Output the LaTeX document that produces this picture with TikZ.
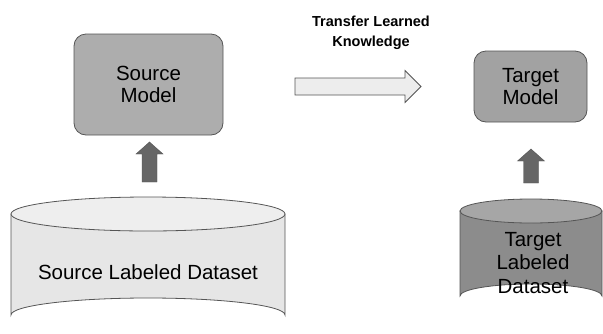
\documentclass[tikz,border=0pt]{standalone}
\usepackage{fontspec}
\setmainfont{Liberation Sans}
\usetikzlibrary{calc}
\definecolor{edge}{HTML}{555555}
\definecolor{modelfill}{HTML}{ADADAD}
\definecolor{tmodelfill}{HTML}{A2A2A2}
\definecolor{srcbody}{HTML}{E6E6E6}
\definecolor{srctop}{HTML}{EEEEEE}
\definecolor{tgtbody}{HTML}{8C8C8C}
\definecolor{tgttop}{HTML}{A6A6A6}
\definecolor{arrowfill}{HTML}{666666}
\definecolor{transferfill}{HTML}{EDEDED}
\begin{document}
\begin{tikzpicture}[x=1pt,y=-1pt,
  modelbox/.style={draw=edge, line width=0.8pt, rounded corners=12pt,
    align=center, inner sep=0pt, font=\fontsize{20.5}{22.5}\selectfont},
  dbtext/.style={align=center, inner sep=0pt, font=\fontsize{20.5}{23.5}\selectfont},
  cyl/.style={draw=edge, line width=0.8pt},
  blockup/.style={fill=arrowfill, draw=arrowfill!80!black, line width=0.4pt},
  transferarrow/.style={fill=transferfill, draw=edge, line width=0.8pt, line join=miter},
  caption/.style={align=center, inner sep=0pt, font=\bfseries\fontsize{14.5}{20}\selectfont}]
\useasboundingbox (0,0) rectangle (603,333);

% source dataset cylinder
\path[cyl, fill=srcbody] (11,214) -- (11,315) arc[start angle=180, end angle=360, x radius=137, y radius=17] -- (285,214) -- cycle;
\path[cyl, fill=srctop] (148,214) ellipse[x radius=137, y radius=17];
\node[dbtext] (srcdata) at (148,272) {Source Labeled Dataset};

% target dataset cylinder
\path[cyl, fill=tgtbody] (460,211) -- (460,296) arc[start angle=180, end angle=360, x radius=71, y radius=12] -- (602,211) -- cycle;
\path[cyl, fill=tgttop] (531,211) ellipse[x radius=71, y radius=12];
\node[dbtext] (tgtdata) at (533,263) {Target\\Labeled\\Dataset};

% models
\node[modelbox, fill=modelfill, minimum width=149pt, minimum height=101pt] (srcmodel) at (148.5,84.5) {Source\\Model};
\node[modelbox, fill=tmodelfill, minimum width=113pt, minimum height=71pt] (tgtmodel) at (530.5,86.5) {Target\\Model};

% block arrows from datasets up to models
\coordinate (s1) at (149.5,182);
\coordinate (e1) at (149.5,142);
\coordinate (s2) at (531,183);
\coordinate (e2) at (531,149);
\foreach \s/\e in {s1/e1, s2/e2}{
  \path[blockup] ($(\s)+(-7.5,0)$) -- ($(\s |- \e)+(-7.5,12)$) -- ($(\s |- \e)+(-13.5,12)$)
    -- (\e) -- ($(\s |- \e)+(13.5,12)$) -- ($(\s |- \e)+(7.5,12)$) -- ($(\s)+(7.5,0)$) -- cycle;
}

% transfer arrow with its caption
\node[caption] (transfer) at (371,33) {Transfer Learned\\Knowledge};
\coordinate (ttail) at (295,86.5);
\coordinate (ttip) at (421,86.5);
\path[transferarrow] ($(ttail)+(0,-8.5)$) -- ($(ttip)+(-16,-8.5)$) -- ($(ttip)+(-16,-16)$) -- (ttip)
  -- ($(ttip)+(-16,16)$) -- ($(ttip)+(-16,8.5)$) -- ($(ttail)+(0,8.5)$) -- cycle;
\end{tikzpicture}
\end{document}
